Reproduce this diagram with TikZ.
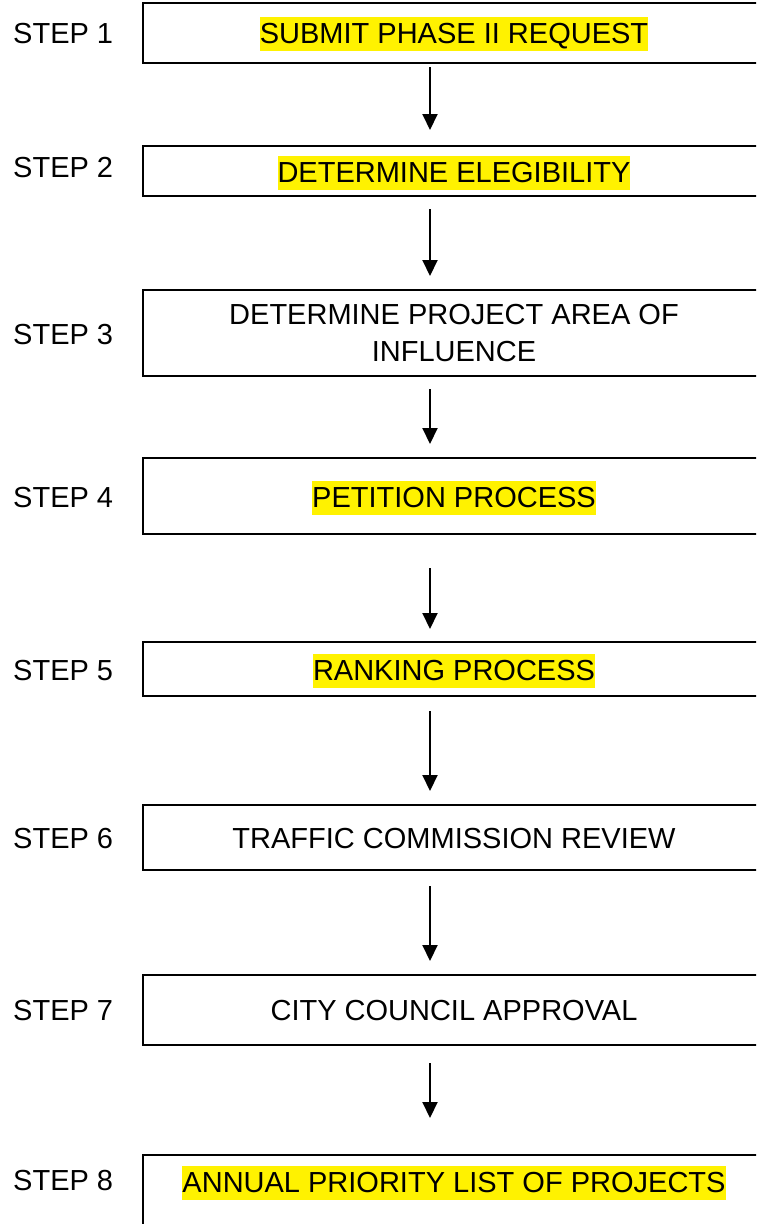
\documentclass[tikz,border=0pt]{standalone}
\usepackage{fontspec}
\setmainfont{Liberation Sans}
\usetikzlibrary{arrows.meta}
\begin{document}
\begin{tikzpicture}[x=1pt,y=-1pt,
  box/.style={draw=black,line width=2pt,rectangle,minimum width=622pt,inner sep=0pt},
  lbl/.style={font=\fontsize{29}{34}\selectfont,anchor=base west,inner sep=0pt},
  hl/.style={fill=yellow,inner xsep=0pt,inner ysep=0pt,text height=26pt,text depth=8pt,font=\fontsize{29}{34}\selectfont,anchor=base},
  txt/.style={inner sep=0pt,font=\fontsize{29}{37}\selectfont,align=center},
  arr/.style={-{Triangle[width=15pt,length=16pt]},line width=2pt}]
\useasboundingbox (0,0) rectangle (756,1224);
\clip (0,0) rectangle (756,1224);
% boxes
\node[box,minimum height=60pt]  (b1) at (454,33) {};
\node[box,minimum height=50pt]  (b2) at (454,171) {};
\node[box,minimum height=86pt]  (b3) at (454,333) {};
\node[box,minimum height=76pt]  (b4) at (454,496) {};
\node[box,minimum height=54pt]  (b5) at (454,669) {};
\node[box,minimum height=65pt]  (b6) at (454,837.5) {};
\node[box,minimum height=70pt]  (b7) at (454,1010) {};
\node[box,minimum height=125pt] (b8) at (454,1217.5) {};
% texts
\node[hl] (t1) at (454,43) {SUBMIT PHASE II REQUEST};
\node[hl] (t2) at (454,182) {DETERMINE ELEGIBILITY};
\node[txt,anchor=center] (t3) at (454,333) {DETERMINE PROJECT AREA OF\\INFLUENCE};
\node[hl] (t4) at (454,507) {PETITION PROCESS};
\node[hl] (t5) at (454,680) {RANKING PROCESS};
\node[txt,anchor=base] (t6) at (454,848) {TRAFFIC COMMISSION REVIEW};
\node[txt,anchor=base] (t7) at (454,1020) {CITY COUNCIL APPROVAL};
\node[hl] (t8) at (454,1192) {ANNUAL PRIORITY LIST OF PROJECTS};
% labels
\node[lbl] (s1) at (13,43) {STEP 1};
\node[lbl] (s2) at (13,177) {STEP 2};
\node[lbl] (s3) at (13,344) {STEP 3};
\node[lbl] (s4) at (13,507) {STEP 4};
\node[lbl] (s5) at (13,680) {STEP 5};
\node[lbl] (s6) at (13,848) {STEP 6};
\node[lbl] (s7) at (13,1020) {STEP 7};
\node[lbl] (s8) at (13,1190) {STEP 8};
% arrows
\draw[arr] ([xshift=-24pt,yshift=-3pt]b1.south) -- ([xshift=-24pt,yshift=15pt]b2.north);
\draw[arr] ([xshift=-24pt,yshift=-12pt]b2.south) -- ([xshift=-24pt,yshift=13pt]b3.north);
\draw[arr] ([xshift=-24pt,yshift=-12pt]b3.south) -- ([xshift=-24pt,yshift=13pt]b4.north);
\draw[arr] ([xshift=-24pt,yshift=-33pt]b4.south) -- ([xshift=-24pt,yshift=12pt]b5.north);
\draw[arr] ([xshift=-24pt,yshift=-14pt]b5.south) -- ([xshift=-24pt,yshift=13pt]b6.north);
\draw[arr] ([xshift=-24pt,yshift=-15pt]b6.south) -- ([xshift=-24pt,yshift=13pt]b7.north);
\draw[arr] ([xshift=-24pt,yshift=-17pt]b7.south) -- ([xshift=-24pt,yshift=36pt]b8.north);
\end{tikzpicture}
\end{document}
